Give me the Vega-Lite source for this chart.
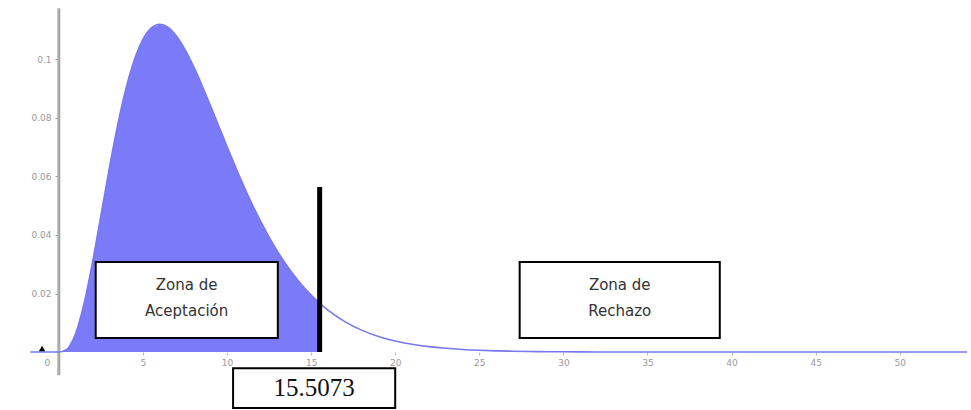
{
  "$schema": "https://vega.github.io/schema/vega-lite/v6.json",
  "autosize": {"type": "fit", "contains": "padding"},
  "width": 971,
  "height": 410,
  "padding": 0,
  "background": "white",
  "config": {"view": {"stroke": null}},
  "datasets": {
    "pdf": [
      {"x": -1.7, "y": 0}, {"x": 0, "y": 0}, {"x": 0.5, "y": 0.001014}, {"x": 1, "y": 0.006318},
      {"x": 1.5, "y": 0.016607}, {"x": 2, "y": 0.030657}, {"x": 2.5, "y": 0.046632},
      {"x": 3, "y": 0.062755}, {"x": 3.5, "y": 0.07761}, {"x": 4, "y": 0.090223},
      {"x": 4.5, "y": 0.100047}, {"x": 5, "y": 0.106882}, {"x": 5.5, "y": 0.110792},
      {"x": 6, "y": 0.112021}, {"x": 6.5, "y": 0.11092}, {"x": 7, "y": 0.107893},
      {"x": 7.5, "y": 0.10335}, {"x": 8, "y": 0.097684}, {"x": 8.5, "y": 0.091249},
      {"x": 9, "y": 0.08436}, {"x": 9.5, "y": 0.077268}, {"x": 10, "y": 0.070187},
      {"x": 10.5, "y": 0.063278}, {"x": 11, "y": 0.056662}, {"x": 11.5, "y": 0.050423},
      {"x": 12, "y": 0.044618}, {"x": 12.5, "y": 0.039276}, {"x": 13, "y": 0.034406},
      {"x": 13.5, "y": 0.030009}, {"x": 14, "y": 0.026064}, {"x": 14.5, "y": 0.022552},
      {"x": 15, "y": 0.019444}, {"x": 15.5073, "y": 0.016671}, {"x": 16, "y": 0.014313},
      {"x": 17, "y": 0.010413}, {"x": 18, "y": 0.0074972}, {"x": 19, "y": 0.005348},
      {"x": 20, "y": 0.0037833}, {"x": 21, "y": 0.0026564}, {"x": 22, "y": 0.0018525},
      {"x": 23, "y": 0.0012839}, {"x": 24, "y": 0.00088477}, {"x": 25, "y": 0.00060656},
      {"x": 26, "y": 0.00041383}, {"x": 27, "y": 0.0002811}, {"x": 28, "y": 0.00019014},
      {"x": 29, "y": 0.00012813}, {"x": 30, "y": 0.000086035}, {"x": 32, "y": 0.000038414},
      {"x": 35, "y": 0.0000112}, {"x": 40, "y": 0.0000014}, {"x": 45, "y": 0}, {"x": 54, "y": 0}
    ],
    "boxes": [
      {"x": 2.19, "x2": 13.02, "y": 0.0308, "y2": 0.0048},
      {"x": 27.4, "x2": 39.3, "y": 0.0308, "y2": 0.0048},
      {"x": 10.36, "x2": 20.0, "y": -0.0055, "y2": -0.0191}
    ],
    "labels": [
      {"x": 7.6, "y": 0.0229, "t": "Zona de"},
      {"x": 7.6, "y": 0.0140, "t": "Aceptación"},
      {"x": 33.35, "y": 0.0229, "t": "Zona de"},
      {"x": 33.35, "y": 0.0140, "t": "Rechazo"}
    ]
  },
  "layer": [
    {
      "data": {"name": "pdf"},
      "transform": [{"filter": "datum.x >= 0 && datum.x <= 15.5073"}],
      "mark": {"type": "area", "color": "#7b7bfa", "opacity": 1},
      "encoding": {
        "x": {"field": "x", "type": "quantitative", "scale": {"domain": [-3.5, 54], "nice": false, "zero": false},
          "axis": {"orient": "bottom", "offset": -58, "values": [0, 5, 10, 15, 20, 25, 30, 35, 40, 45, 50],
            "labelOffset": {"condition": {"test": "datum.value == 0", "value": -12}, "value": 0},
            "labelFlush": false, "labelOverlap": false,
            "domain": false, "grid": false, "ticks": true, "tickSize": 3, "tickColor": "#bbbbbb",
            "labelColor": "#999999", "labelFontSize": 9, "labelFont": "DejaVu Sans", "labelPadding": 3, "title": null}},
        "y": {"field": "y", "type": "quantitative", "scale": {"domain": [-0.0198, 0.1203], "nice": false, "zero": false},
          "axis": {"orient": "left", "offset": -59, "values": [0.02, 0.04, 0.06, 0.08, 0.1],
            "labelExpr": "datum.value == 0.1 ? '0.1' : format(datum.value, '.2f')",
            "domain": false, "grid": false, "ticks": true, "tickSize": 4, "tickColor": "#999999",
            "labelColor": "#999999", "labelFontSize": 9, "labelFont": "DejaVu Sans", "labelPadding": 4, "title": null}}
      }
    },
    {
      "data": {"values": [{"x": 0, "y": -0.0079, "y2": 0.1175}]},
      "mark": {"type": "rule", "color": "#aaaaaa", "strokeWidth": 3},
      "encoding": {
        "x": {"field": "x", "type": "quantitative"},
        "y": {"field": "y", "type": "quantitative"},
        "y2": {"field": "y2"}
      }
    },
    {
      "data": {"name": "pdf"},
      "mark": {"type": "line", "color": "#7878ee", "strokeWidth": 1.6, "interpolate": "monotone"},
      "encoding": {
        "x": {"field": "x", "type": "quantitative"},
        "y": {"field": "y", "type": "quantitative"}
      }
    },
    {
      "data": {"values": [{"x": -1, "y": 0.0012}]},
      "mark": {"type": "point", "shape": "triangle-up", "filled": true, "color": "black", "size": 40, "opacity": 1},
      "encoding": {
        "x": {"field": "x", "type": "quantitative"},
        "y": {"field": "y", "type": "quantitative"}
      }
    },
    {
      "data": {"values": [{"x": 15.5073, "y": 0, "y2": 0.0564}]},
      "mark": {"type": "rule", "color": "black", "strokeWidth": 5},
      "encoding": {
        "x": {"field": "x", "type": "quantitative"},
        "y": {"field": "y", "type": "quantitative"},
        "y2": {"field": "y2"}
      }
    },
    {
      "data": {"name": "boxes"},
      "mark": {"type": "rect", "fill": "white", "stroke": "black", "strokeWidth": 2},
      "encoding": {
        "x": {"field": "x", "type": "quantitative"},
        "x2": {"field": "x2"},
        "y": {"field": "y", "type": "quantitative"},
        "y2": {"field": "y2"}
      }
    },
    {
      "data": {"name": "labels"},
      "mark": {"type": "text", "font": "DejaVu Sans", "fontSize": 15, "color": "#333333", "align": "center", "baseline": "middle"},
      "encoding": {
        "x": {"field": "x", "type": "quantitative"},
        "y": {"field": "y", "type": "quantitative"},
        "text": {"field": "t"}
      }
    },
    {
      "data": {"values": [{"x": 15.18, "y": -0.0123, "t": "15.5073"}]},
      "mark": {"type": "text", "font": "Liberation Serif", "fontSize": 25, "color": "#111111", "align": "center", "baseline": "middle"},
      "encoding": {
        "x": {"field": "x", "type": "quantitative"},
        "y": {"field": "y", "type": "quantitative"},
        "text": {"field": "t"}
      }
    }
  ]
}
